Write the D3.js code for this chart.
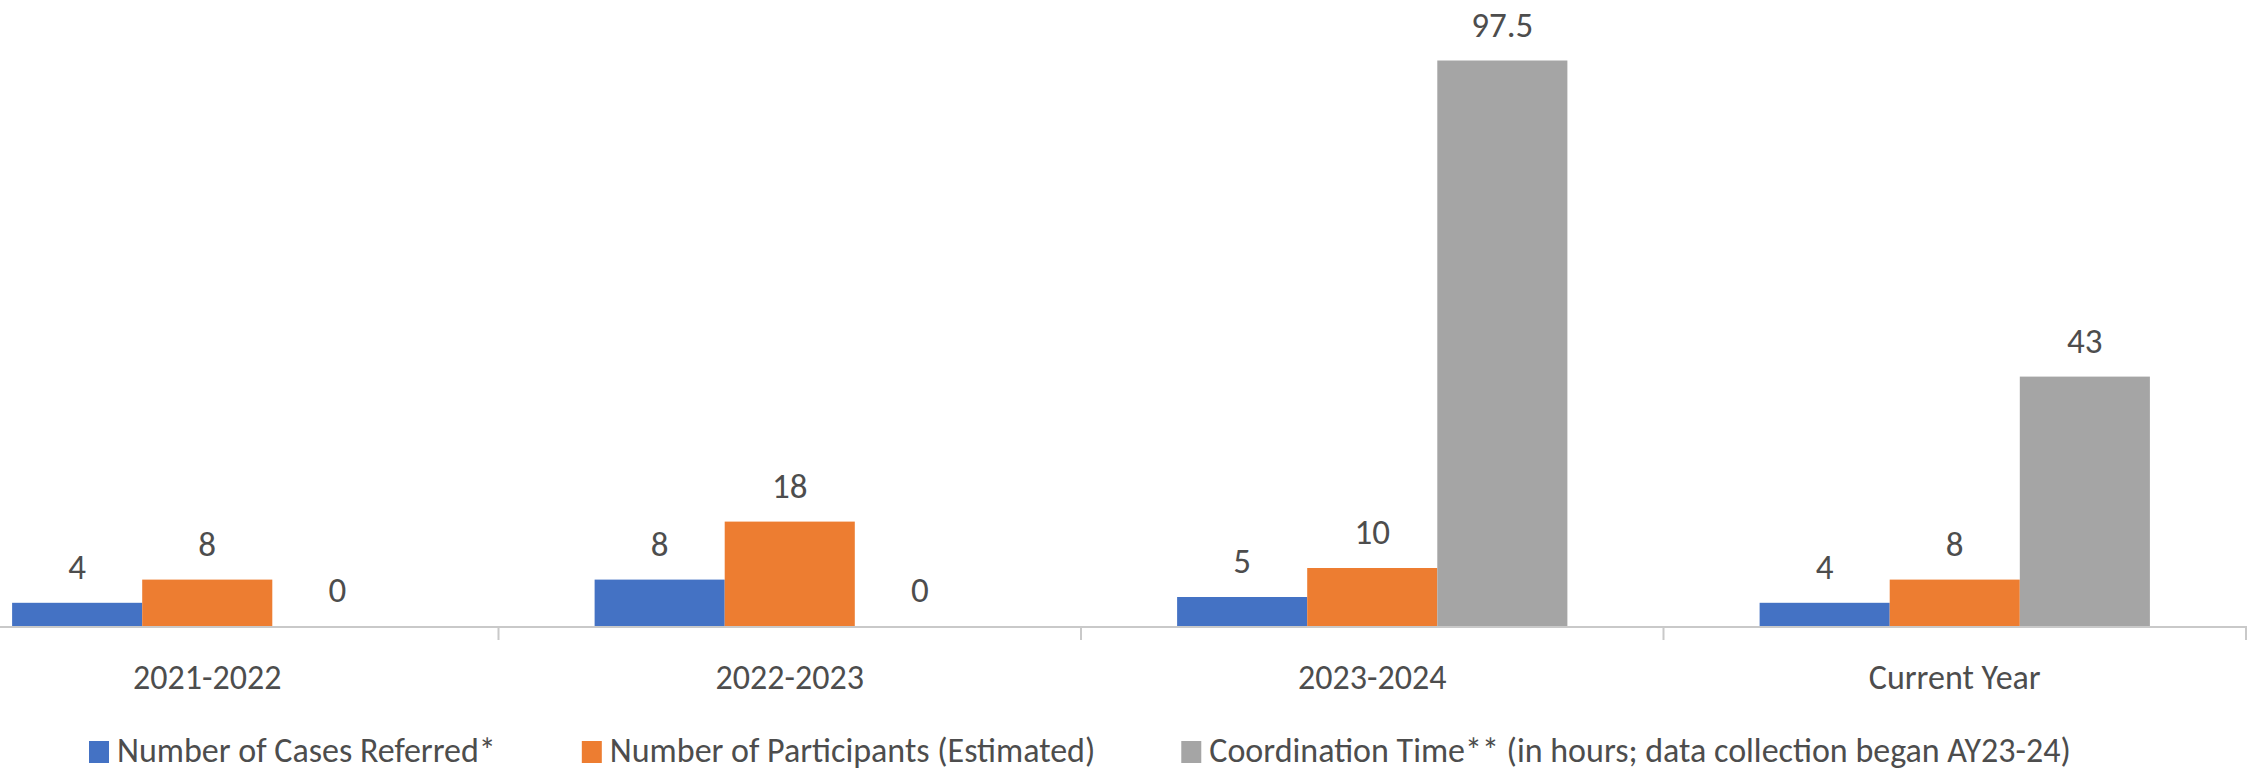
<!DOCTYPE html>
<meta charset="utf-8">
<head>
    <title>Referrals chart</title>
    <script src="https://d3js.org/d3.v7.min.js"></script>
    <style>
        body { margin: 0; background: #fff; }
        svg text { font-family: Carlito, Calibri, "Liberation Sans Narrow", "Liberation Sans", sans-serif; fill: #4d4d4d; }
    </style>
</head>
<body>
<script>
    // values
    var years = ["2021-2022", "2022-2023", "2023-2024", "Current Year"];
    var seriesNames = ["Number of Cases Referred*", "Number of Participants (Estimated)", "Coordination Time** (in hours; data collection began AY23-24)"];
    var casesReferred = [4, 8, 5, 4];
    var participants = [8, 18, 10, 8];
    var coordinationHours = [0, 0, 97.5, 43];
    var colors = ["#4472C4", "#ED7D31", "#A5A5A5"];

    var width = 2254, height = 772;

    var svg = d3.select("body").append("svg")
        .attr("width", width)
        .attr("height", height);

    var series = [casesReferred, participants, coordinationHours];
    var rows = years.map(function (y, i) {
        return { year: y, values: series.map(function (s) { return s[i]; }) };
    });

    // plot is wider than the picture, first band is cut on the left
    var x = d3.scaleBand()
        .domain(years)
        .range([-84, 2246])
        .paddingInner(0.33)
        .paddingOuter(0.165);

    var x1 = d3.scaleBand()
        .domain(d3.range(seriesNames.length))
        .range([0, x.bandwidth()]);

    var y = d3.scaleLinear()
        .domain([0, 100])
        .range([626, 46]);

    var group = svg.selectAll(".year")
        .data(rows)
        .enter().append("g")
        .attr("class", "year")
        .attr("transform", function (d) { return "translate(" + x(d.year) + ",0)"; });

    group.selectAll("rect")
        .data(function (d) { return d.values; })
        .enter().append("rect")
        .attr("x", function (d, i) { return x1(i); })
        .attr("y", function (d) { return y(d); })
        .attr("width", x1.bandwidth())
        .attr("height", function (d) { return y(0) - y(d); })
        .attr("fill", function (d, i) { return colors[i]; });

    group.selectAll("text.val")
        .data(function (d) { return d.values; })
        .enter().append("text")
        .attr("class", "val")
        .attr("x", function (d, i) { return x1(i) + x1.bandwidth() / 2; })
        .attr("y", function (d) { return y(d) - 24; })
        .attr("text-anchor", "middle")
        .style("font-size", "35px")
        .text(function (d) { return d; });

    // category axis: line at zero, ticks between the categories
    var step = x.step();
    var left = x.range()[0];
    svg.append("line")
        .attr("x1", 0).attr("x2", x.range()[1] + 1)
        .attr("y1", y(0) + 1).attr("y2", y(0) + 1)
        .attr("stroke", "#c9c9c9")
        .attr("stroke-width", 2);

    svg.selectAll(".tick")
        .data(d3.range(1, years.length + 1))
        .enter().append("line")
        .attr("class", "tick")
        .attr("x1", function (d) { return left + d * step; })
        .attr("x2", function (d) { return left + d * step; })
        .attr("y1", y(0) + 1)
        .attr("y2", y(0) + 14)
        .attr("stroke", "#c9c9c9")
        .attr("stroke-width", 2);

    svg.selectAll(".cat")
        .data(years)
        .enter().append("text")
        .attr("class", "cat")
        .attr("x", function (d) { return x(d) + x.bandwidth() / 2; })
        .attr("y", 689)
        .attr("text-anchor", "middle")
        .style("font-size", "34px")
        .text(function (d) { return d; });

    // legend, laid out by measured text widths
    var legend = svg.append("g").attr("class", "legend");
    var items = legend.selectAll("g")
        .data(seriesNames)
        .enter().append("g");

    items.append("rect")
        .attr("width", 20)
        .attr("height", 22)
        .attr("y", 741)
        .attr("fill", function (d, i) { return colors[i]; });

    items.append("text")
        .attr("x", 28)
        .attr("y", 762)
        .style("font-size", "34px")
        .text(function (d) { return d; });

    var pos = 89;
    items.each(function () {
        var w = d3.select(this).select("text").node().getComputedTextLength();
        this._x = pos;
        pos += 28 + w + 86;
    });
    items.attr("transform", function () { return "translate(" + this._x + ",0)"; });
</script>
</body>
</html>
